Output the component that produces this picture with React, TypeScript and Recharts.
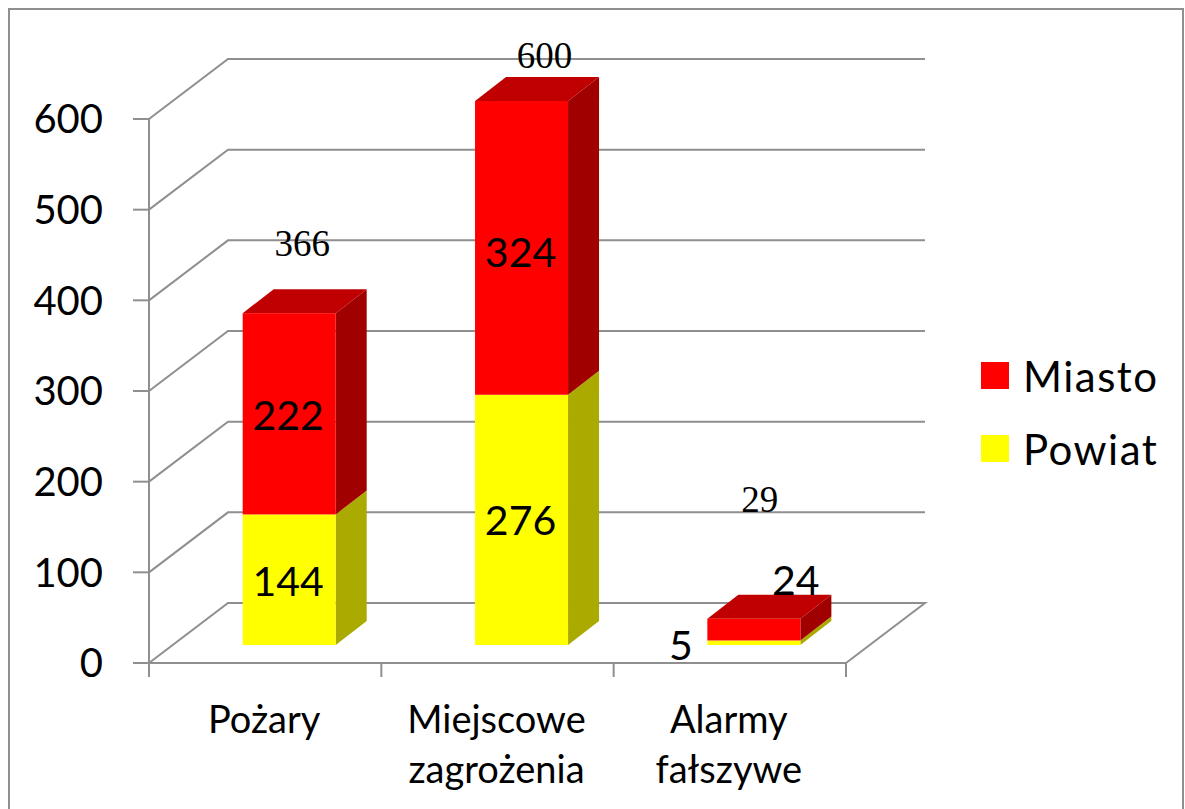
import { ComposedChart, Bar, Line, XAxis, YAxis, CartesianGrid, Legend, LabelList } from 'recharts';

const categories = ['Pożary', 'Miejscowe zagrożenia', 'Alarmy fałszywe'];
const powiat = [144, 276, 5];
const miasto = [222, 324, 24];
const totals = [366, 600, 29];
const yTicks = [0, 100, 200, 300, 400, 500, 600];

const data = categories.map((name, i) => ({
  name,
  powiat: powiat[i],
  miasto: miasto[i],
  total: totals[i],
}));

const FONT = 'Lato, sans-serif';
const GREY = '#8f8f8f';

// fake 3D: bars sit in the middle of the floor, boxes go back by DEPTH
const WALL = { dx: 79, dy: -60 };
const BAR_SHIFT = { dx: 24, dy: -18 };
const DEPTH = { dx: 31, dy: -24 };

// the labels that were dragged by hand in the original
const powiatNudge = [{ dx: -1, dy: 1 }, { dx: -1, dy: 0 }, { dx: -73, dy: 2 }];
const miastoNudge = [{ dx: -1, dy: 1 }, { dx: -1, dy: 4 }, { dx: 42, dy: -50 }];
const totalNudge = [{ dx: 37, dy: -88 }, { dx: 47, dy: -64 }, { dx: 30, dy: -137 }];

function pts(list: number[][]) {
  return list.map(p => p.join(',')).join(' ');
}

function Box3D(props: any) {
  const { x, y, width, height, front, side, top } = props;
  const l = x + BAR_SHIFT.dx;
  const r = l + width;
  const t = y + BAR_SHIFT.dy;
  const b = t + height;
  const { dx, dy } = DEPTH;
  return (
    <g>
      <polygon points={pts([[r, t], [r + dx, t + dy], [r + dx, b + dy], [r, b]])} fill={side} />
      {top && <polygon points={pts([[l, t], [l + dx, t + dy], [r + dx, t + dy], [r, t]])} fill={top} />}
      <rect x={l} y={t} width={width} height={height} fill={front} />
    </g>
  );
}

function BarValue(props: any, nudge: { dx: number; dy: number }[]) {
  const { x, y, width, height, value, index } = props;
  const n = nudge[index];
  return (
    <text
      x={x + width / 2 + BAR_SHIFT.dx + n.dx}
      y={y + height / 2 + BAR_SHIFT.dy + n.dy}
      textAnchor="middle"
      dominantBaseline="central"
      fontFamily={FONT}
      fontSize={41}
      fill="#000"
    >
      {value}
    </text>
  );
}

function TotalValue(props: any) {
  const { x, y, value, index } = props;
  const n = totalNudge[index];
  return (
    <text
      x={x + n.dx}
      y={y + n.dy}
      textAnchor="middle"
      dominantBaseline="central"
      fontFamily="'Liberation Serif', serif"
      fontSize={37}
      fill="#000"
    >
      {value}
    </text>
  );
}

function WallLine(props: any) {
  const { x1, y1, x2, index } = props;
  const bx = x1 + WALL.dx;
  const by = y1 + WALL.dy;
  const line = index === 0
    ? [[x1, y1], [bx, by], [x2 + WALL.dx, by], [x2, y1]]
    : [[x1, y1], [bx, by], [x2 + WALL.dx, by]];
  return <polyline points={pts(line)} fill="none" stroke={GREY} strokeWidth={2} />;
}

function CategoryTick(props: any) {
  const { x, y, payload, index } = props;
  const band = 697 / 3;
  const left = x - band / 2;
  const words = String(payload.value).split(' ');
  return (
    <g>
      <line x1={left} y1={y - 8} x2={left} y2={y + 6} stroke={GREY} strokeWidth={2} />
      {index === categories.length - 1 && (
        <line x1={left + band} y1={y - 8} x2={left + band} y2={y + 6} stroke={GREY} strokeWidth={2} />
      )}
      {words.map((w, i) => (
        <text
          key={w}
          x={x - 1}
          y={y + 47 + i * 50}
          textAnchor="middle"
          dominantBaseline="central"
          fontFamily={FONT}
          fontSize={38}
          fill="#000"
        >
          {w}
        </text>
      ))}
    </g>
  );
}

function LegendBox({ payload }: any) {
  const items = [...(payload ?? [])].filter(p => p.value === 'Miasto' || p.value === 'Powiat');
  items.sort(a => (a.value === 'Miasto' ? -1 : 1));
  return (
    <div style={{ width: 190, fontFamily: FONT, fontSize: 42, letterSpacing: 1.5, color: '#000' }}>
      {items.map(p => (
        <div key={p.value} style={{ display: 'flex', alignItems: 'center', height: 73 }}>
          <span style={{ width: 28, height: 27, background: p.color, marginRight: 14 }} />
          <span>{p.value}</span>
        </div>
      ))}
    </div>
  );
}

export default function App() {
  return (
    <div style={{ position: 'absolute', left: 0, top: 0, width: 1185, height: 809, background: '#fff', overflow: 'hidden' }}>
      <div style={{ position: 'absolute', left: 8, top: 8, width: 1172, height: 820, border: `2px solid ${GREY}` }} />
      <ComposedChart
        width={1185}
        height={809}
        data={data}
        barCategoryGap="30%"
        margin={{ top: 119, right: 339, bottom: 0, left: 0 }}
        style={{ position: 'absolute', left: 0, top: 0 }}
      >
        <CartesianGrid vertical={false} horizontal={(p: any) => <WallLine {...p} />} />
        <XAxis
          dataKey="name"
          height={146}
          interval={0}
          tickLine={false}
          axisLine={{ stroke: GREY, strokeWidth: 2 }}
          tick={<CategoryTick />}
        />
        <YAxis
          width={149}
          domain={[0, 600]}
          ticks={yTicks}
          tickSize={16}
          tickMargin={30}
          axisLine={{ stroke: GREY, strokeWidth: 2 }}
          tickLine={{ stroke: GREY, strokeWidth: 2 }}
          tick={{ fontFamily: FONT, fontSize: 40, fill: '#000' }}
        />
        <Legend
          layout="vertical"
          align="center"
          verticalAlign="middle"
          content={<LegendBox />}
          wrapperStyle={{ left: 981, top: 339, width: 190 }}
        />
        <Bar
          dataKey="powiat"
          name="Powiat"
          stackId="a"
          fill="#ffff00"
          isAnimationActive={false}
          shape={(p: any) => <Box3D {...p} front="#ffff00" side="#aaaa00" />}
        >
          <LabelList dataKey="powiat" content={(p: any) => BarValue(p, powiatNudge)} />
        </Bar>
        <Bar
          dataKey="miasto"
          name="Miasto"
          stackId="a"
          fill="#ff0000"
          isAnimationActive={false}
          shape={(p: any) => <Box3D {...p} front="#ff0000" side="#a00000" top="#c00000" />}
        >
          <LabelList dataKey="miasto" content={(p: any) => BarValue(p, miastoNudge)} />
        </Bar>
        <Line
          dataKey="total"
          stroke="none"
          dot={false}
          legendType="none"
          isAnimationActive={false}
        >
          <LabelList dataKey="total" content={TotalValue} />
        </Line>
      </ComposedChart>
    </div>
  );
}
